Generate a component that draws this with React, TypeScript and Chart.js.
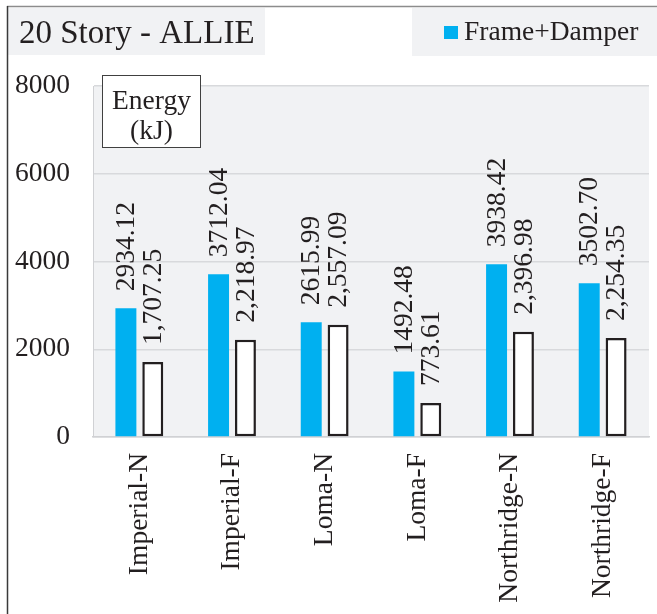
import React, { useEffect, useRef } from "react";
import { Chart, registerables } from "chart.js";

Chart.register(...registerables);

const categories = ["Imperial-N", "Imperial-F", "Loma-N", "Loma-F", "Northridge-N", "Northridge-F"];
const frameDamper = [2934.12, 3712.04, 2615.99, 1492.48, 3938.42, 3502.7];
const secondSeries = [1707.25, 2218.97, 2557.09, 773.61, 2396.98, 2254.35];
const yTicks = [0, 2000, 4000, 6000, 8000];
const titleText = "20 Story - ALLIE";
const legendText = "Frame+Damper";
const axisBoxLines = ["Energy", "(kJ)"];

const FONT = '"Liberation Serif", "Times New Roman", serif';
const TEXT = "#231f20";
const BLUE = "#00b0f0";
const PANEL = "#f1f2f4";

const fmtBlue = (v: number) => v.toFixed(2);
const fmtWhite = (v: number) =>
  v.toLocaleString("en-US", { minimumFractionDigits: 2, maximumFractionDigits: 2 });

const decorPlugin = {
  id: "decor",
  beforeDraw(chart: any) {
    const { ctx, chartArea } = chart;
    ctx.save();
    ctx.fillStyle = PANEL;
    ctx.fillRect(chartArea.left, chartArea.top, chartArea.right - chartArea.left, chartArea.bottom - chartArea.top);
    // title box
    ctx.fillRect(8, 8, 257, 47);
    // legend box
    ctx.fillRect(412, 8, 245, 48);
    // frame lines
    ctx.strokeStyle = "#8c8c8c";
    ctx.lineWidth = 1.5;
    ctx.beginPath();
    ctx.moveTo(7, 6.5);
    ctx.lineTo(657, 6.5);
    ctx.stroke();
    ctx.strokeStyle = "#3a3a3a";
    ctx.beginPath();
    ctx.moveTo(7.5, 6);
    ctx.lineTo(7.5, 614);
    ctx.stroke();
    // title
    ctx.fillStyle = TEXT;
    ctx.font = `33px ${FONT}`;
    ctx.textAlign = "left";
    ctx.textBaseline = "alphabetic";
    ctx.fillText(titleText, 19, 43);
    // legend
    ctx.fillStyle = BLUE;
    ctx.fillRect(444, 26, 14, 13);
    ctx.fillStyle = TEXT;
    ctx.font = `27.5px ${FONT}`;
    ctx.fillText(legendText, 464, 40);
    ctx.restore();
  },
  afterDraw(chart: any) {
    const { ctx } = chart;
    ctx.save();
    // data labels
    ctx.fillStyle = TEXT;
    ctx.font = `27.5px ${FONT}`;
    ctx.textAlign = "left";
    ctx.textBaseline = "middle";
    chart.data.datasets.forEach((ds: any, di: number) => {
      const meta = chart.getDatasetMeta(di);
      meta.data.forEach((bar: any, i: number) => {
        const v = ds.data[i];
        const txt = di === 0 ? fmtBlue(v) : fmtWhite(v);
        ctx.save();
        ctx.translate(bar.x + 1, bar.y - 17);
        ctx.rotate(-Math.PI / 2);
        ctx.fillText(txt, 0, 0);
        ctx.restore();
      });
    });
    // axis title box
    ctx.fillStyle = "#ffffff";
    ctx.fillRect(102, 75, 99, 73);
    ctx.strokeStyle = "#404040";
    ctx.lineWidth = 1;
    ctx.strokeRect(102.5, 75.5, 98, 72);
    ctx.fillStyle = TEXT;
    ctx.textAlign = "center";
    ctx.textBaseline = "alphabetic";
    ctx.font = `27.5px ${FONT}`;
    ctx.fillText(axisBoxLines[0], 151.5, 109);
    ctx.fillText(axisBoxLines[1], 151.5, 139);
    ctx.restore();
  },
};

export default function App() {
  const ref = useRef<HTMLCanvasElement | null>(null);
  useEffect(() => {
    if (!ref.current) return;
    const chart = new Chart(ref.current, {
      type: "bar",
      data: {
        labels: categories,
        datasets: [
          {
            label: legendText,
            data: frameDamper,
            backgroundColor: BLUE,
            borderWidth: 0,
            categoryPercentage: 0.58,
            barPercentage: 0.78,
          },
          {
            label: "Frame",
            data: secondSeries,
            backgroundColor: "#ffffff",
            borderColor: TEXT,
            borderWidth: 2.5,
            borderSkipped: false,
            categoryPercentage: 0.58,
            barPercentage: 0.78,
          },
        ],
      },
      options: {
        responsive: false,
        animation: false,
        layout: { padding: { top: 86, right: 8, left: 0, bottom: 0 } },
        plugins: { legend: { display: false }, title: { display: false }, tooltip: { enabled: false } },
        scales: {
          x: {
            grid: { display: false, drawTicks: false },
            border: { display: true, color: "#d0d1d4", width: 1.5 },
            ticks: {
              minRotation: 90,
              maxRotation: 90,
              padding: 16,
              color: TEXT,
              font: { family: FONT, size: 27.5 },
            },
            afterFit(scale: any) {
              scale.height = 177;
            },
          },
          y: {
            min: 0,
            max: 8000,
            afterBuildTicks(scale: any) {
              scale.ticks = yTicks.map((v) => ({ value: v }));
            },
            grid: { color: "#d8d9dc", lineWidth: 1.5, drawTicks: false },
            border: { display: true, color: "#d0d1d4", width: 1 },
            ticks: {
              padding: 23,
              color: TEXT,
              font: { family: FONT, size: 27.5 },
              callback: (v: any) => String(v),
            },
            afterFit(scale: any) {
              scale.width = 93;
            },
          },
        },
      },
      plugins: [decorPlugin],
    });
    return () => chart.destroy();
  }, []);
  return (
    <div style={{ position: "fixed", left: 0, top: 0, width: 657, height: 614, background: "#fff" }}>
      <canvas ref={ref} width={657} height={614} style={{ display: "block" }} />
    </div>
  );
}
